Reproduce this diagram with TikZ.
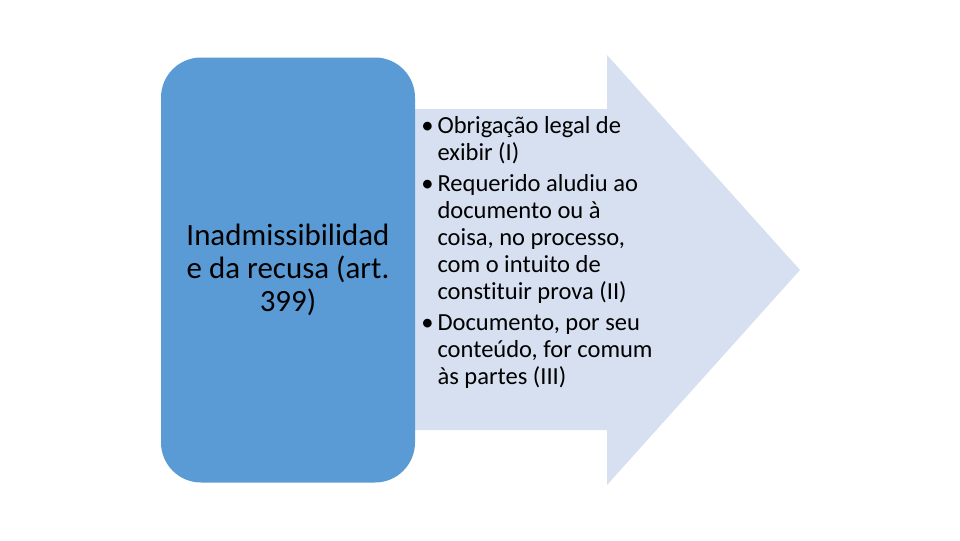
\documentclass[tikz,border=0pt]{standalone}
\usepackage{fontspec}
\setmainfont[Ligatures=NoCommon]{Carlito}
\definecolor{boxblue}{HTML}{5B9BD5}
\definecolor{arrowfill}{HTML}{D6E0F0}
\begin{document}
\begin{tikzpicture}[x=0.75pt,y=-0.75pt,
  bluebox/.style={fill=boxblue,rounded corners=30pt,inner sep=0pt,
    minimum width=190.5pt,minimum height=318.75pt,
    font=\fontsize{23.2pt}{24.75pt}\selectfont,align=center,text=black},
  listtext/.style={inner sep=0pt,align=left,text=black,
    font=\fontsize{18.4pt}{20.25pt}\selectfont}]
\useasboundingbox (0,0) rectangle (960,540);
% arrow
\fill[arrowfill] (400,109) -- (607,109) -- (607,55) -- (800,270) -- (607,485) -- (607,430) -- (400,430) -- cycle;
% left box
\node[bluebox] (box) at (288,270) {Inadmissibilidad\\e da recusa (art.\\399)};
% list
\newcommand{\ind}{\hspace*{12.2pt}}
\newcommand{\bul}{\makebox[12.2pt][l]{\textbullet}}
\node[listtext,anchor=base west] (list) at (421,384)
 {\bul Obrigação legal de\\
  \ind exibir (I)\\[3pt]
  \bul Requerido aludiu ao\\
  \ind documento ou à\\
  \ind coisa, no processo,\\
  \ind com o intuito de\\
  \ind constituir prova (II)\\[3pt]
  \bul Documento, por seu\\
  \ind conteúdo, for comum\\
  \ind às partes (III)};
\end{tikzpicture}
\end{document}
